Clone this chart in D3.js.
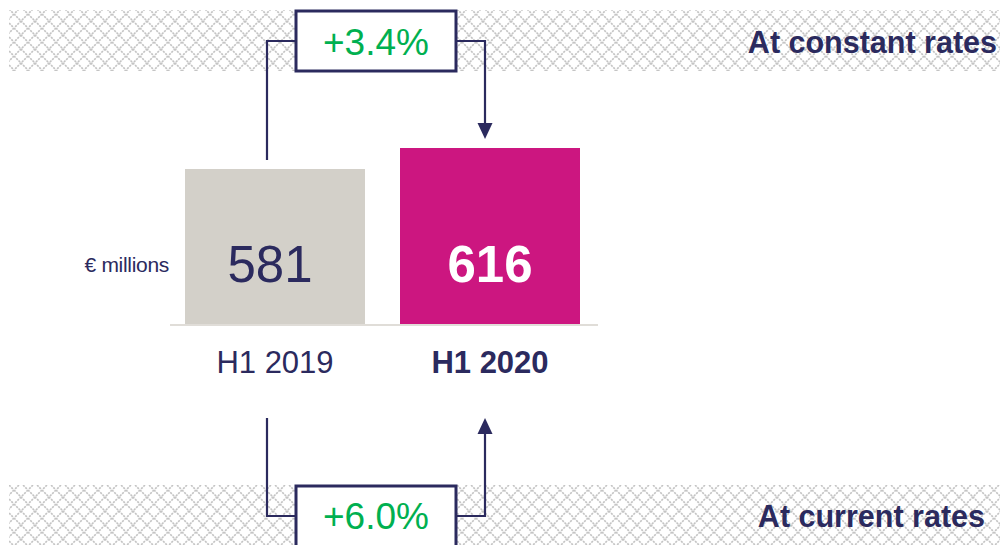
<!DOCTYPE html>
<html>
<head>
<meta charset="utf-8">
<script src="https://cdn.jsdelivr.net/npm/d3@7"></script>
<style>
  body { margin: 0; background: #fff; }
  svg { display: block; font-family: "Liberation Sans", Arial, sans-serif; }
</style>
</head>
<body>
<div class="chart"></div>
<script>
const categories = ["H1 2019", "H1 2020"];
const values = [581, 616];
const barColors = ["#d3d0c9", "#cc1680"];
const growthLabels = ["+3.4%", "+6.0%"];
const rateLabels = ["At constant rates", "At current rates"];
const unitLabel = "€ millions";

drawChart();

function drawChart() {
  const width = 1000,
    height = 545,
    navy = "#2b2a5e",
    green = "#00b050";

  const svg = d3.select(".chart")
    .append("svg")
    .attr("width", width)
    .attr("height", height);

  // crosshatch pattern for the two bands
  const defs = svg.append("defs");
  const pat = defs.append("pattern")
    .attr("id", "hatch")
    .attr("patternUnits", "userSpaceOnUse")
    .attr("width", 14)
    .attr("height", 14);
  pat.append("rect").attr("width", 14).attr("height", 14).attr("fill", "#fff");
  pat.append("path")
    .attr("d", "M0,0L14,14M14,0L0,14")
    .attr("stroke", "#c4c4c4")
    .attr("stroke-width", 1.6)
    .attr("stroke-dasharray", "2.2,1");

  svg.append("rect").attr("x", 9).attr("y", 10).attr("width", width - 9).attr("height", 61)
    .attr("fill", "url(#hatch)");
  svg.append("rect").attr("x", 9).attr("y", 485).attr("width", width - 9).attr("height", 60)
    .attr("fill", "url(#hatch)");

  const x = d3.scaleBand()
    .domain(categories)
    .range([185, 580])
    .paddingInner(35 / 215)
    .paddingOuter(0);

  const y = d3.scaleLinear()
    .domain([321, 616])
    .range([325, 148]);

  // bars
  svg.selectAll(".bar")
    .data(categories)
    .enter()
    .append("rect")
    .attr("class", "bar")
    .attr("x", d => x(d))
    .attr("width", x.bandwidth())
    .attr("y", (d, i) => y(values[i]))
    .attr("height", (d, i) => y(321) - y(values[i]))
    .attr("fill", (d, i) => barColors[i]);

  // baseline
  svg.append("line")
    .attr("x1", 170).attr("x2", 598)
    .attr("y1", y(321)).attr("y2", y(321))
    .attr("stroke", "#e0ddd8")
    .attr("stroke-width", 2);

  // value labels
  svg.selectAll(".val")
    .data(categories)
    .enter()
    .append("text")
    .attr("class", "val")
    .attr("x", (d, i) => x(d) + x.bandwidth() / 2 - (i === 0 ? 5 : 0))
    .attr("y", 282)
    .attr("text-anchor", "middle")
    .style("font-size", "51px")
    .style("font-weight", (d, i) => i === 1 ? "bold" : "normal")
    .style("fill", (d, i) => i === 1 ? "#fff" : navy)
    .text((d, i) => values[i]);

  // category labels
  svg.selectAll(".cat")
    .data(categories)
    .enter()
    .append("text")
    .attr("class", "cat")
    .attr("x", d => x(d) + x.bandwidth() / 2)
    .attr("y", 373)
    .attr("text-anchor", "middle")
    .style("font-size", "31px")
    .style("font-weight", (d, i) => i === 1 ? "bold" : "normal")
    .style("fill", navy)
    .text(d => d);

  svg.append("text")
    .attr("x", 169)
    .attr("y", 272)
    .attr("text-anchor", "end")
    .style("font-size", "21px")
    .style("letter-spacing", "-0.3px")
    .style("fill", navy)
    .text(unitLabel);

  // connectors
  const xl = x(categories[0]) + 82,
    xr = x(categories[1]) + 85,
    boxW = 160,
    cx = (xl + xr) / 2;

  const arrowHead = (tipX, tipY, dir) =>
    `M${tipX},${tipY}L${tipX - 7.5},${tipY - dir * 16}L${tipX + 7.5},${tipY - dir * 16}Z`;

  // top: constant rates
  svg.append("path")
    .attr("d", `M${xl},160V41H${cx - boxW / 2}M${cx + boxW / 2},41H${xr}V125`)
    .attr("fill", "none").attr("stroke", navy).attr("stroke-width", 2.2);
  svg.append("path").attr("d", arrowHead(xr, 139, 1)).attr("fill", navy);
  svg.append("rect")
    .attr("x", cx - boxW / 2).attr("y", 11).attr("width", boxW).attr("height", 60)
    .attr("fill", "#fff").attr("stroke", navy).attr("stroke-width", 3);
  svg.append("text")
    .attr("x", cx).attr("y", 55)
    .attr("text-anchor", "middle")
    .style("font-size", "37px").style("fill", green)
    .text(growthLabels[0]);

  // bottom: current rates
  svg.append("path")
    .attr("d", `M${xl},418V516H${cx - boxW / 2}M${cx + boxW / 2},516H${xr}V430`)
    .attr("fill", "none").attr("stroke", navy).attr("stroke-width", 2.2);
  svg.append("path").attr("d", arrowHead(xr, 418, -1)).attr("fill", navy);
  svg.append("rect")
    .attr("x", cx - boxW / 2).attr("y", 486).attr("width", boxW).attr("height", 70)
    .attr("fill", "#fff").attr("stroke", navy).attr("stroke-width", 3);
  svg.append("text")
    .attr("x", cx).attr("y", 529)
    .attr("text-anchor", "middle")
    .style("font-size", "37px").style("fill", green)
    .text(growthLabels[1]);

  // band labels
  svg.append("text")
    .attr("x", 997).attr("y", 53)
    .attr("text-anchor", "end")
    .style("font-size", "30.5px").style("font-weight", "bold").style("fill", navy)
    .text(rateLabels[0]);
  svg.append("text")
    .attr("x", 985).attr("y", 527)
    .attr("text-anchor", "end")
    .style("font-size", "30.5px").style("font-weight", "bold").style("fill", navy)
    .text(rateLabels[1]);
}
</script>
</body>
</html>
